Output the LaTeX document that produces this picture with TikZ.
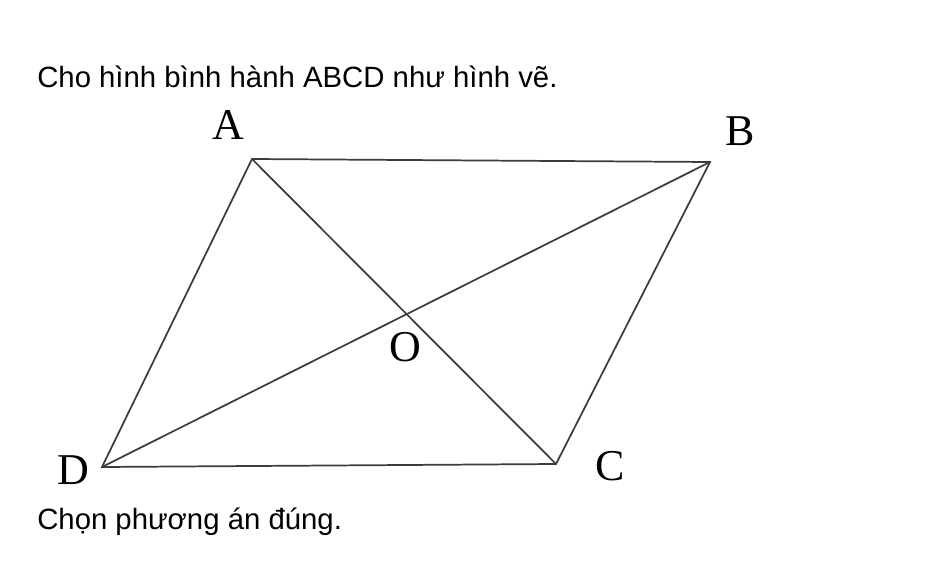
\documentclass[tikz,border=0pt]{standalone}
\usepackage{fontspec}
\setmainfont{Liberation Sans}
\newfontfamily\lblfont{Liberation Serif}
\usetikzlibrary{calc}
\definecolor{edgegray}{RGB}{60,60,60}

\begin{document}
\begin{tikzpicture}[x=0.75pt,y=-0.75pt,
  txt/.style={anchor=base west,inner sep=0pt,font=\fontsize{22}{26}\selectfont},
  vlabel/.style={inner sep=0pt,font=\lblfont\fontsize{33}{36}\selectfont},
  edge/.style={edgegray,line width=1.3pt,line join=miter}]
  \useasboundingbox (0,0) rectangle (929,567);
  % texts
  \node[txt] (q1) at (37,88) {Cho hình bình hành ABCD như hình vẽ.};
  \node[txt] (q2) at (37,529) {Chọn phương án đúng.};
  % vertices
  \coordinate (A) at (252,159);
  \coordinate (B) at (710,162);
  \coordinate (C) at (556,464);
  \coordinate (D) at (102,467);
  % sides and diagonals
  \draw[edge] (A) -- (B) -- (C) -- (D) -- cycle;
  \draw[edge] (A) -- (C);
  \draw[edge] (B) -- (D);
  % labels
  \node[vlabel] (lA) at (228,125) {A};
  \node[vlabel] (lB) at (740,131) {B};
  \node[vlabel] (lC) at (610,466) {C};
  \node[vlabel] (lD) at (73,470) {D};
  \node[vlabel] (lO) at (405,347) {O};
\end{tikzpicture}
\end{document}
